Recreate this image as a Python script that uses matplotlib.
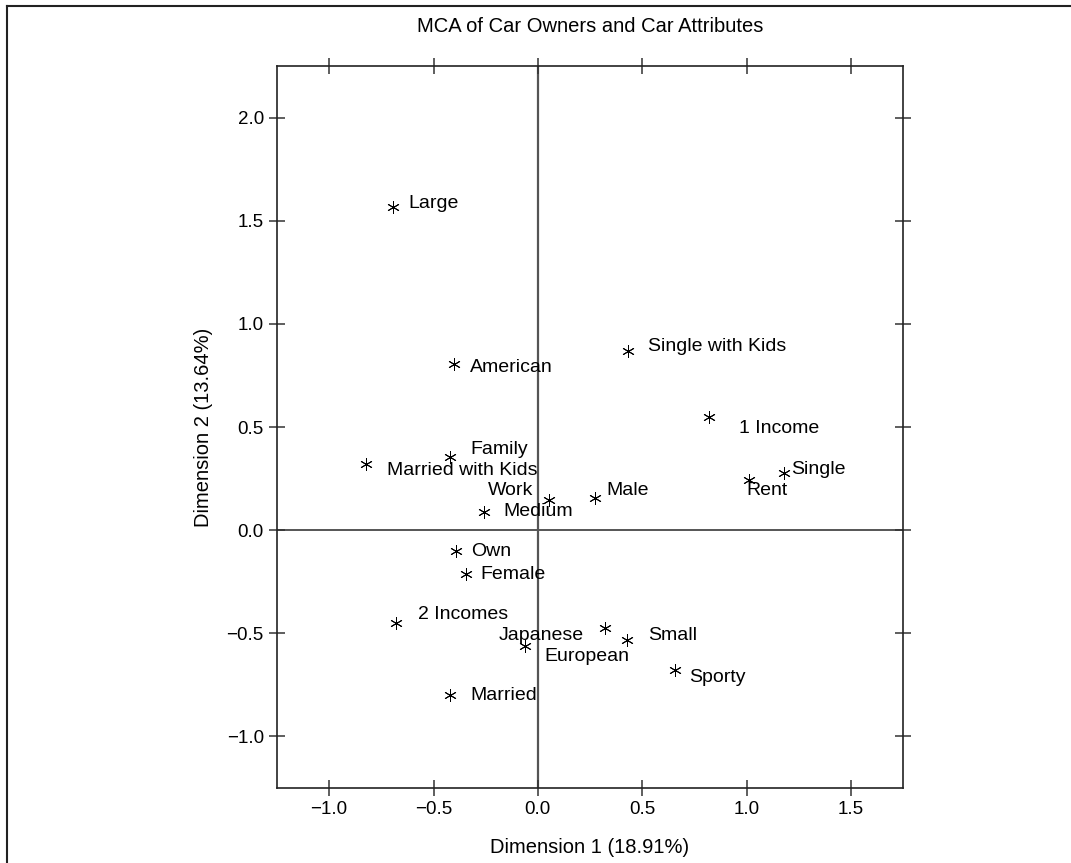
import matplotlib
matplotlib.use("Agg")
import matplotlib.pyplot as plt
from matplotlib.lines import Line2D

plt.rcParams['font.family'] = ['Liberation Sans', 'DejaVu Sans']

labels = ["American", "European", "Japanese", "Large", "Medium", "Small",
          "Family", "Sporty", "Work", "1 Income", "2 Incomes", "Own", "Rent",
          "Female", "Male", "Married", "Married with Kids", "Single",
          "Single with Kids"]
dim1 = [-0.401, -0.062, 0.320, -0.693, -0.258, 0.427,
        -0.421, 0.655, 0.054, 0.819, -0.678, -0.392, 1.013,
        -0.344, 0.272, -0.420, -0.822, 1.180, 0.430]
dim2 = [0.807, -0.564, -0.475, 1.565, 0.089, -0.531,
        0.355, -0.677, 0.146, 0.549, -0.451, -0.102, 0.242,
        -0.214, 0.157, -0.799, 0.319, 0.279, 0.870]
xticks = [-1.0, -0.5, 0.0, 0.5, 1.0, 1.5]
yticks = [-1.0, -0.5, 0.0, 0.5, 1.0, 1.5, 2.0]

# label placement (pixels: dx right, dy down, horizontal alignment)
placement = {
    "American": (16, 4, "left"), "European": (19, 10, "left"),
    "Japanese": (-21, 7, "right"), "Large": (15, -4, "left"),
    "Medium": (19, 0, "left"), "Small": (21, -4, "left"),
    "Family": (20, -7, "left"), "Sporty": (15, 8, "left"),
    "Work": (-16, -10, "right"), "1 Income": (30, 12, "left"),
    "2 Incomes": (22, -9, "left"), "Own": (15, 0, "left"),
    "Rent": (-3, 10, "left"), "Female": (14, 0, "left"),
    "Male": (12, -7, "left"), "Married": (20, 1, "left"),
    "Married with Kids": (21, 6, "left"), "Single": (7, -3, "left"),
    "Single with Kids": (20, -4, "left"),
}

W, H = 1071, 863
fig = plt.figure(figsize=(W / 100, H / 100), dpi=100)
ax = fig.add_axes([277 / W, 1 - 788 / H, 626 / W, 722 / H])

ax.set_xlim(-1.25, 1.75)
ax.set_ylim(-1.25, 2.25)
ax.axhline(0, color="#555555", lw=1.4, zorder=1)
ax.axvline(0, color="#555555", lw=1.6, zorder=1)

ax.plot(dim1, dim2, linestyle="none", marker=(6, 2, 0), markersize=9,
        markeredgewidth=0.7, color="black", zorder=3)
for lab, x, y in zip(labels, dim1, dim2):
    dx, dy, ha = placement[lab]
    ax.annotate(lab, (x, y), xytext=(dx, -dy), textcoords="offset pixels",
                ha=ha, va="center", fontsize=14, color="black")

ax.set_xticks(xticks)
ax.set_yticks(yticks)
ax.set_xticklabels([f"{t:.1f}".replace("-", "\u2212") for t in xticks])
ax.set_yticklabels([f"{t:.1f}".replace("-", "\u2212") for t in yticks])
ax.tick_params(direction="inout", length=11, width=1.1, color="#333333",
               labelsize=13.5, pad=4, top=True, right=True)
for s in ax.spines.values():
    s.set_linewidth(1.2)
    s.set_color("#222222")

ax.set_xlabel("Dimension 1 (18.91%)", fontsize=14.5, labelpad=14)
ax.set_ylabel("Dimension 2 (13.64%)", fontsize=14.5, labelpad=10)
fig.text(590 / W, 1 - 27 / H, "MCA of Car Owners and Car Attributes",
         ha="center", va="center", fontsize=14.5)

# outer frame (clipped at right and bottom)
fig.add_artist(Line2D([7 / W, 1.0], [1 - 6 / H, 1 - 6 / H],
                      transform=fig.transFigure, color="#222222", lw=1.5))
fig.add_artist(Line2D([7 / W, 7 / W], [0.0, 1 - 6 / H],
                      transform=fig.transFigure, color="#222222", lw=1.5))

fig.savefig("out.png", dpi=100)
